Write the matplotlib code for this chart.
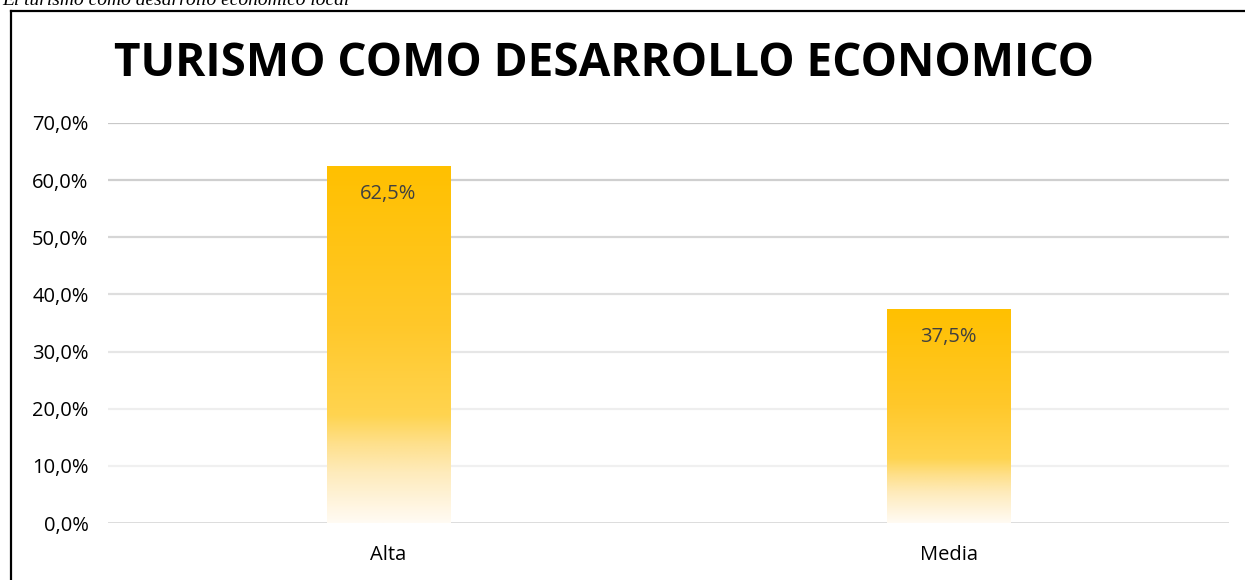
import numpy as np
import matplotlib.pyplot as plt
from matplotlib.colors import LinearSegmentedColormap
from matplotlib.lines import Line2D

# data
categories = ['Alta', 'Media']
values = [0.625, 0.375]
value_labels = ['62,5%', '37,5%']
yticks = [0.0, 0.1, 0.2, 0.3, 0.4, 0.5, 0.6, 0.7]
ytick_labels = ['0,0%', '10,0%', '20,0%', '30,0%', '40,0%', '50,0%', '60,0%', '70,0%']

title = 'TURISMO COMO DESARROLLO ECONOMICO'
caption = 'El turismo como desarrollo económico local'

plt.rcParams['font.family'] = ['Open Sans', 'DejaVu Sans']

# gold -> white, top to bottom of each bar
grad = LinearSegmentedColormap.from_list('gold', [
    (0.0, '#FFC000'), (0.45, '#FFC82A'), (0.70, '#FFD450'),
    (0.78, '#FEE08C'), (0.86, '#FEEBBB'), (0.94, '#FFF4DC'), (1.0, '#FFFBF3')])

fig = plt.figure(figsize=(12.45, 5.8), dpi=100)
ax = fig.add_axes([108 / 1245, 57 / 580, (1229 - 108) / 1245, 400 / 580])

x = np.arange(len(categories))
bars = ax.bar(x, values, width=0.22, color='none', zorder=3)
ax.set_xlim(-0.5, len(categories) - 0.5)
ax.set_ylim(0, 0.7)

for b in bars:
    x0, y0 = b.get_x(), b.get_y()
    w, h = b.get_width(), b.get_height()
    img = np.linspace(0, 1, 256).reshape(-1, 1)
    im = ax.imshow(img, cmap=grad, extent=[x0, x0 + w, y0, y0 + h], origin='upper',
                   aspect='auto', zorder=2, interpolation='bilinear')
    im.set_clip_path(b)

for xi, v, lab in zip(x, values, value_labels):
    ax.text(xi, v - 0.049, lab, ha='center', va='center', fontsize=14.5, color='#404040', zorder=4)

# gridlines get lighter towards the bottom
grid_colors = ['#d9d9d9', '#f0f0f0', '#eeeeee', '#e6e6e6', '#dedede', '#d6d6d6', '#cfcfcf', '#c8c8c8']
for yv, c in zip(yticks, grid_colors):
    ax.axhline(yv, color=c, lw=2 if yv == 0 else 1.6, zorder=1)

ax.set_yticks(yticks)
ax.set_yticklabels(ytick_labels)
ax.set_xticks(x)
ax.set_xticklabels(categories)
ax.tick_params(axis='y', length=0, pad=14, labelsize=14.5, labelcolor='#000000')
ax.tick_params(axis='x', length=0, pad=16, labelsize=14.5, labelcolor='#000000')
for s in ax.spines.values():
    s.set_visible(False)

fig.text(604 / 1245, 1 - 63 / 580, title, ha='center', va='center',
         fontsize=33, fontweight='bold', color='#000000')

fig.text(2 / 1245, 1 - 5 / 580, caption, ha='left', va='baseline', fontsize=14,
         fontstyle='italic', family='Liberation Serif')

# chart frame (top and left edge)
fig.add_artist(Line2D([11 / 1245, 1.0], [1 - 11 / 580, 1 - 11 / 580], color='black', lw=1.6))
fig.add_artist(Line2D([11 / 1245, 11 / 1245], [0, 1 - 11 / 580], color='black', lw=1.6))

fig.savefig('out.png', dpi=100)
